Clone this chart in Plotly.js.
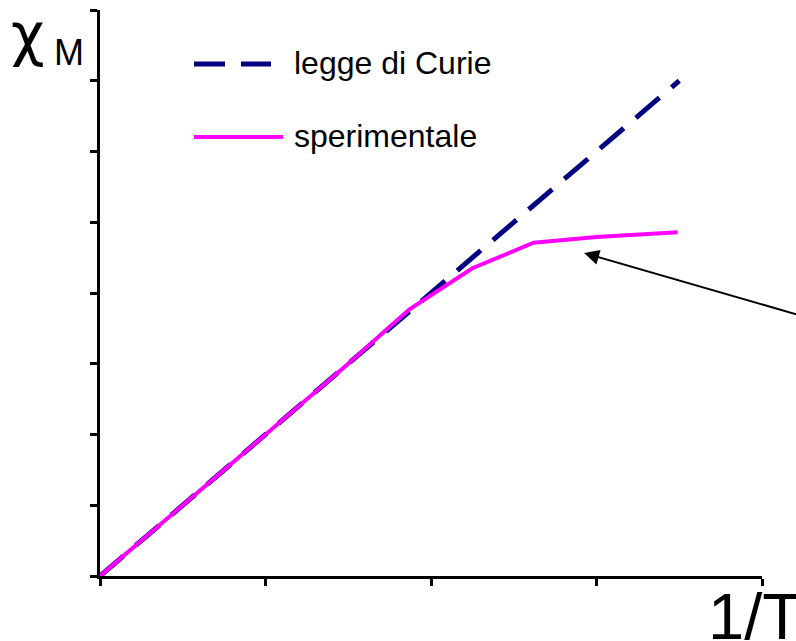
<!DOCTYPE html>
<html>
<head>
<meta charset="utf-8">
<script src="https://cdn.plot.ly/plotly-3.0.1.min.js"></script>
<style>html,body{margin:0;padding:0;background:#fff;}#chart{width:796px;height:641px;}</style>
</head>
<body>
<div id="chart"></div>
<script>
// Data (arbitrary units: 1/T on x, chi_M on y)
const curieX = [0, 3.5];
const curieY = [0, 7.0];
const expX = [0, 0.5, 1.0, 1.5, 1.73, 1.87, 2.25, 2.62, 3.0, 3.49];
const expY = [0, 1.0, 2.0, 3.0, 3.48, 3.77, 4.35, 4.71, 4.79, 4.86];
const seriesNames = ["legge di Curie", "sperimentale"];
const xTitle = "1/T";
const yTitleMain = "χ";
const yTitleSub = "M";

// plot-area pixel helpers for decorations
const L = 100, R = 762, T = 10, B = 576;
const px = x => (x - L) / (R - L);
const py = y => (B - y) / (B - T);

const traces = [
  {x: curieX, y: curieY, mode: "lines", name: seriesNames[0],
   line: {color: "#000080", width: 5, dash: "31px,16px"}, cliponaxis: false},
  {x: expX, y: expY, mode: "lines", name: seriesNames[1],
   line: {color: "#ff00ff", width: 4}, cliponaxis: false}
];

const font = "Liberation Sans, Arial, sans-serif";
const layout = {
  width: 796, height: 641,
  margin: {l: L, r: 796 - R, t: T, b: 641 - B, pad: 0},
  paper_bgcolor: "#fff", plot_bgcolor: "#fff",
  showlegend: false,
  xaxis: {range: [0, 4], dtick: 1, tick0: 0, showticklabels: false,
          ticks: "outside", ticklen: 7, tickwidth: 3, tickcolor: "#000",
          showline: true, linewidth: 3, linecolor: "#000",
          showgrid: false, zeroline: false, fixedrange: true},
  yaxis: {range: [0, 8], dtick: 1, tick0: 0, showticklabels: false,
          ticks: "outside", ticklen: 7, tickwidth: 3, tickcolor: "#000",
          showline: true, linewidth: 3, linecolor: "#000",
          showgrid: false, zeroline: false, fixedrange: true},
  shapes: [
    {type: "line", xref: "paper", yref: "paper", x0: px(194), x1: px(225), y0: py(64), y1: py(64),
     line: {color: "#000080", width: 5}},
    {type: "line", xref: "paper", yref: "paper", x0: px(241), x1: px(271), y0: py(64), y1: py(64),
     line: {color: "#000080", width: 5}},
    {type: "line", xref: "paper", yref: "paper", x0: px(194), x1: px(283), y0: py(137), y1: py(137),
     line: {color: "#ff00ff", width: 4}}
  ],
  annotations: [
    {xref: "paper", yref: "paper", x: px(292), y: py(63), xanchor: "left", yanchor: "middle",
     text: seriesNames[0], showarrow: false, font: {family: font, size: 32, color: "#000"}},
    {xref: "paper", yref: "paper", x: px(292), y: py(136), xanchor: "left", yanchor: "middle",
     text: seriesNames[1], showarrow: false, font: {family: font, size: 32, color: "#000"}},
    {xref: "paper", yref: "paper", x: px(10), y: py(0), xanchor: "left", yanchor: "top", borderpad: 0,
     text: yTitleMain, showarrow: false, font: {family: "DejaVu Sans", size: 58, color: "#000"}},
    {xref: "paper", yref: "paper", x: px(52), y: py(53), xanchor: "left", yanchor: "middle",
     text: yTitleSub, showarrow: false, font: {family: font, size: 36, color: "#000"}},
    {xref: "paper", yref: "paper", x: px(706), y: py(616), xanchor: "left", yanchor: "middle",
     text: xTitle, showarrow: false, font: {family: font, size: 65, color: "#000"}},
    {x: 2.925, y: 4.565, ax: 4.22, ay: 3.69, axref: "x", ayref: "y", xref: "x", yref: "y",
     text: "", showarrow: true, arrowhead: 2, arrowsize: 1.5, arrowwidth: 2, arrowcolor: "#000"}
  ]
};

Plotly.newPlot("chart", traces, layout, {staticPlot: true});
</script>
</body>
</html>
